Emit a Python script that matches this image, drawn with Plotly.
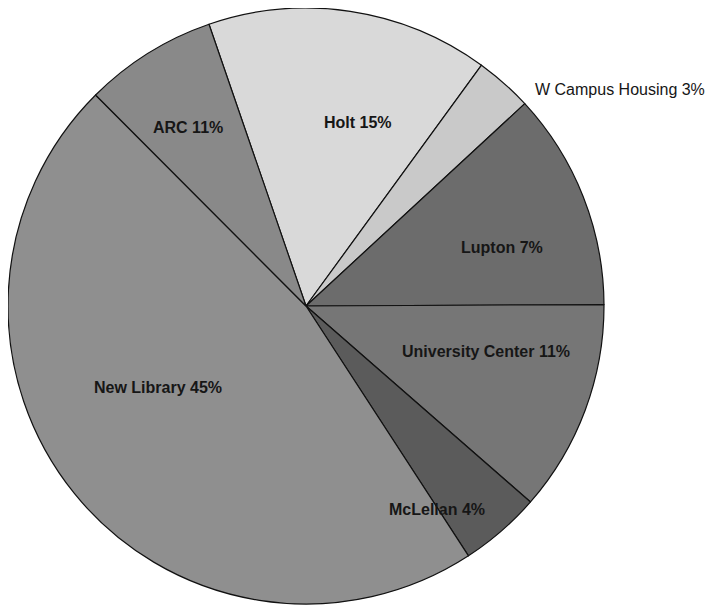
import plotly.graph_objects as go

locations = ["Holt", "W Campus Housing", "Lupton", "University Center", "McLellan", "New Library", "ARC"]
slice_share = [15.3, 3.1, 11.8, 11.5, 4.4, 46.7, 7.2]
label_pct = ["15%", "3%", "7%", "11%", "4%", "45%", "11%"]

# Styling / layout (kept apart from the data)
colors = ["#d9d9d9", "#c9c9c9", "#6c6c6c", "#767676", "#5b5b5b", "#8f8f8f", "#898989"]
label_px = [(358, 122), (620, 90), (502, 248), (486, 351), (437, 509), (158, 387), (188, 127)]
label_bold = [True, False, True, True, True, True, True]

OFF = 8  # page body margin
W, H = 710, 602
L, T, SIZE = 0, 0, 596
R, B = W - L - SIZE, H - T - SIZE

fig = go.Figure(go.Pie(
    labels=locations,
    values=slice_share,
    sort=False,
    direction="clockwise",
    rotation=-19,
    marker=dict(colors=colors, line=dict(color="#111111", width=1.2)),
    textinfo="none",
    hoverinfo="label+percent",
    showlegend=False,
))

for name, pct, (px, py), bold in zip(locations, label_pct, label_px, label_bold):
    fig.add_annotation(
        x=(px - OFF - L) / SIZE, y=1 - (py - OFF - T) / SIZE, xref="paper", yref="paper",
        text=f"{name} {pct}", showarrow=False,
        font=dict(family="Liberation Sans, Arial, sans-serif", size=16,
                  color="#161616", weight="bold" if bold else "normal"),
        xanchor="center", yanchor="middle",
    )

fig.update_layout(
    width=W, height=H,
    margin=dict(l=L, r=R, t=T, b=B),
    paper_bgcolor="white", plot_bgcolor="white",
)

fig.write_html("out.html")
